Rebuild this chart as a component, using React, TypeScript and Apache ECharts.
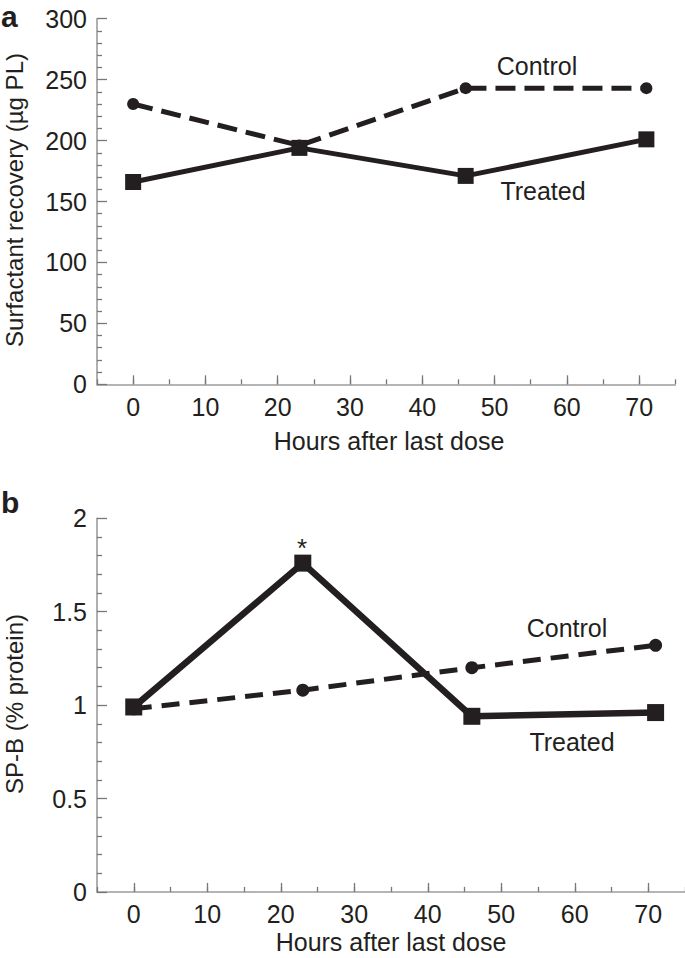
import React, { useEffect, useRef } from "react";
import * as echarts from "echarts";

const hours = [0, 23, 46, 71];
const recoveryControl = [230, 196, 243, 243];
const recoveryTreated = [166, 194, 171, 201];
const spbControl = [0.98, 1.08, 1.2, 1.32];
const spbTreated = [0.99, 1.76, 0.94, 0.96];
const xTickLabels = [0, 10, 20, 30, 40, 50, 60, 70];

const FONT = "'Liberation Sans', Arial, Helvetica, sans-serif";
const INK = "#231f20";
const AXIS = "#9c9c9c";

export default function App() {
  const ref = useRef<HTMLDivElement>(null);
  useEffect(() => {
    if (!ref.current) return;
    const chart = echarts.init(ref.current, undefined, { renderer: "svg" });

    const pxA = 578.3 / 80;
    const pxB = 588 / 80;
    const gA = { left: 97, top: 18.7, width: 578.3, height: 365.6 };
    const gB = { left: 97, top: 518.3, width: 588, height: 373.6 };

    const pairs = (vals: number[]) => hours.map((h, i) => [h, vals[i]]);

    const minorX = (gi: number) => ({
      type: "value",
      gridIndex: gi,
      min: -5,
      max: 75,
      interval: 5,
      axisLine: { show: true, onZero: false, lineStyle: { color: AXIS, width: 1.6 } },
      axisTick: { show: true, inside: true, length: 5, lineStyle: { color: "#777", width: 1.3 } },
      axisLabel: { show: false },
      splitLine: { show: false },
    });
    const majorX = (gi: number) => ({
      type: "value",
      gridIndex: gi,
      min: 0,
      max: 70,
      interval: 10,
      axisLine: { show: false, onZero: false },
      axisTick: { show: true, inside: true, length: 9, lineStyle: { color: "#777", width: 1.3 } },
      axisLabel: {
        show: true,
        margin: 10,
        fontSize: 25,
        fontFamily: FONT,
        color: INK,
        formatter: (v: number) => (xTickLabels.includes(v) ? String(v) : ""),
      },
      splitLine: { show: false },
    });
    const yAx = (gi: number, min: number, max: number, interval: number) => ({
      type: "value",
      gridIndex: gi,
      min,
      max,
      interval,
      axisLine: { show: true, onZero: false, lineStyle: { color: AXIS, width: 1.6 } },
      axisTick: { show: true, inside: true, length: 10, lineStyle: { color: "#777", width: 1.3 } },
      minorTick: { show: true, splitNumber: 5, length: 5, lineStyle: { color: "#777", width: 1.3 } },
      axisLabel: { margin: 10, fontSize: 25, fontFamily: FONT, color: INK },
      splitLine: { show: false },
    });

    const option: any = {
      animation: false,
      backgroundColor: "#fff",
      grid: [
        gA,
        gB,
        { left: 97 + 5 * pxA, top: gA.top, width: 70 * pxA, height: gA.height },
        { left: 97 + 5 * pxB, top: gB.top, width: 70 * pxB, height: gB.height },
      ],
      xAxis: [minorX(0), minorX(1), majorX(2), majorX(3)],
      yAxis: [
        yAx(0, 0, 300, 50),
        yAx(1, 0, 2, 0.5),
        { type: "value", gridIndex: 2, min: 0, max: 300, show: false },
        { type: "value", gridIndex: 3, min: 0, max: 2, show: false },
      ],
      series: [
        {
          type: "line",
          xAxisIndex: 0,
          yAxisIndex: 0,
          data: pairs(recoveryControl),
          symbol: "circle",
          symbolSize: 12,
          itemStyle: { color: INK },
          lineStyle: { color: INK, width: 5, type: [20, 9] },
        },
        {
          type: "line",
          xAxisIndex: 0,
          yAxisIndex: 0,
          data: pairs(recoveryTreated),
          symbol: "rect",
          symbolSize: 16,
          itemStyle: { color: INK },
          lineStyle: { color: INK, width: 5 },
        },
        {
          type: "line",
          xAxisIndex: 1,
          yAxisIndex: 1,
          data: pairs(spbControl),
          symbol: "circle",
          symbolSize: 13,
          itemStyle: { color: INK },
          lineStyle: { color: INK, width: 5, type: [18, 10] },
        },
        {
          type: "line",
          xAxisIndex: 1,
          yAxisIndex: 1,
          data: pairs(spbTreated),
          symbol: "rect",
          symbolSize: 17,
          itemStyle: { color: INK },
          lineStyle: { color: INK, width: 6.5 },
        },
      ],
      graphic: [
        { type: "text", x: 1, y: 1, style: { text: "a", fontSize: 30, fontWeight: "bold", fontFamily: FONT, fill: INK, textAlign: "left", textVerticalAlign: "top" } },
        { type: "text", x: 1, y: 487, style: { text: "b", fontSize: 30, fontWeight: "bold", fontFamily: FONT, fill: INK, textAlign: "left", textVerticalAlign: "top" } },
        { type: "text", x: 14, y: 200, rotation: Math.PI / 2, style: { text: "Surfactant recovery (µg PL)", fontSize: 24, fontFamily: FONT, fill: INK, textAlign: "center", textVerticalAlign: "middle" } },
        { type: "text", x: 14, y: 704, rotation: Math.PI / 2, style: { text: "SP-B (% protein)", fontSize: 24, fontFamily: FONT, fill: INK, textAlign: "center", textVerticalAlign: "middle" } },
        { type: "text", x: 389, y: 441, style: { text: "Hours after last dose", fontSize: 25, fontFamily: FONT, fill: INK, textAlign: "center", textVerticalAlign: "middle" } },
        { type: "text", x: 391, y: 942, style: { text: "Hours after last dose", fontSize: 25, fontFamily: FONT, fill: INK, textAlign: "center", textVerticalAlign: "middle" } },
        { type: "text", x: 537, y: 66, style: { text: "Control", fontSize: 25, fontFamily: FONT, fill: INK, textAlign: "center", textVerticalAlign: "middle" } },
        { type: "text", x: 543, y: 191, style: { text: "Treated", fontSize: 25, fontFamily: FONT, fill: INK, textAlign: "center", textVerticalAlign: "middle" } },
        { type: "text", x: 567, y: 628, style: { text: "Control", fontSize: 25, fontFamily: FONT, fill: INK, textAlign: "center", textVerticalAlign: "middle" } },
        { type: "text", x: 572, y: 742, style: { text: "Treated", fontSize: 25, fontFamily: FONT, fill: INK, textAlign: "center", textVerticalAlign: "middle" } },
        { type: "text", x: 302, y: 548, style: { text: "*", fontSize: 26, fontFamily: FONT, fill: INK, textAlign: "center", textVerticalAlign: "middle" } },
      ],
    };
    chart.setOption(option);
    return () => chart.dispose();
  }, []);

  return (
    <div
      ref={ref}
      style={{ position: "absolute", left: 0, top: 0, width: 685, height: 958, background: "#fff" }}
    />
  );
}
